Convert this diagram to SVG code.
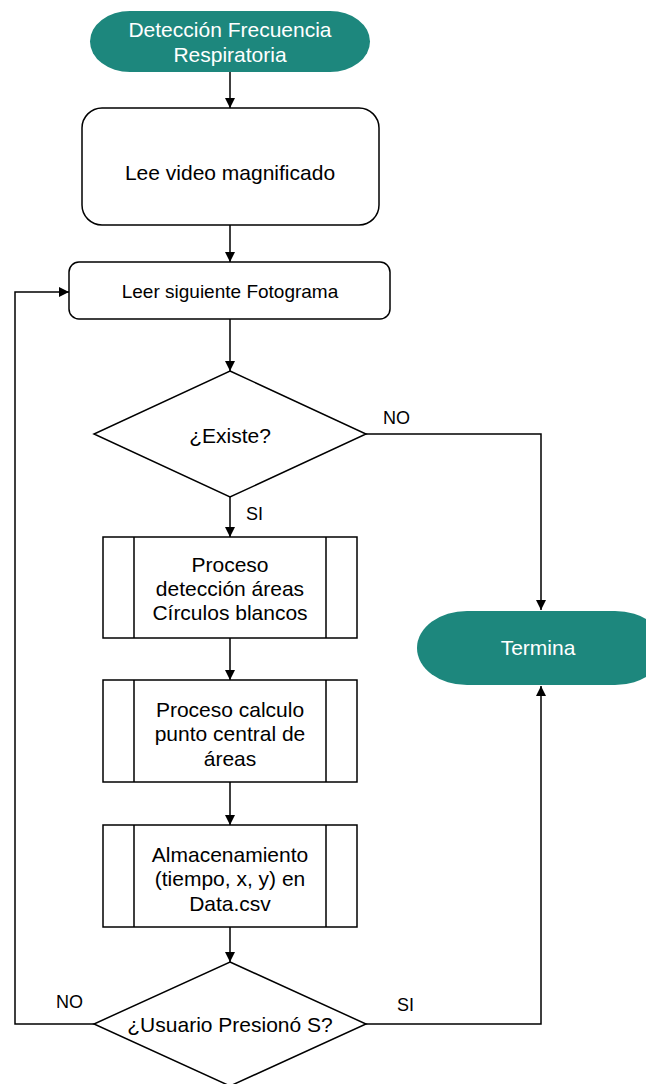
<svg xmlns="http://www.w3.org/2000/svg" width="646" height="1084" viewBox="0 0 646 1084">
<defs>
<marker id="ah" viewBox="0 0 10 10" refX="10" refY="5" markerWidth="10" markerHeight="10" markerUnits="userSpaceOnUse" orient="auto">
<path d="M0,0 L10,5 L0,10 z" fill="#000"/>
</marker>
<style>
.t{font-family:"Liberation Sans",Arial,sans-serif;font-size:21px;fill:#000;text-anchor:middle}
.w{fill:#fff}
.lb{font-family:"Liberation Sans",Arial,sans-serif;font-size:18px;fill:#000}
.term{fill:#1d877d;stroke:none}
.box{fill:#fff;stroke:#000;stroke-width:1.5}
.c{fill:none;stroke:#000;stroke-width:1.5;marker-end:url(#ah)}
.cn{fill:none;stroke:#000;stroke-width:1.5}
</style>
</defs>
<rect width="646" height="1084" fill="#fff"/>
<g id="connectors">
<path class="c" d="M230,72 V108"/>
<path class="c" d="M230,225 V262"/>
<path class="c" d="M230,319 V371"/>
<path class="c" d="M366,434 H541 V610"/>
<path class="c" d="M230,497 V537"/>
<path class="c" d="M230,638 V680"/>
<path class="c" d="M230,782 V825"/>
<path class="c" d="M230,927 V962"/>
<path class="c" d="M94,1024 H15 V292 H69"/>
<path class="c" d="M366,1024 H541 V686"/>
<text class="lb" x="383" y="424">NO</text>
<text class="lb" x="246" y="520">SI</text>
<text class="lb" x="56" y="1008">NO</text>
<text class="lb" x="397" y="1011">SI</text>
</g>
<g id="start">
<rect class="term" x="90" y="11" width="280" height="61" rx="40" ry="30.5"/>
<text class="t w" x="230" y="37">Detección Frecuencia</text>
<text class="t w" x="230" y="62">Respiratoria</text>
</g>
<g id="leevideo">
<rect class="box" x="82" y="108" width="297" height="117" rx="20"/>
<text class="t" x="230" y="180">Lee video magnificado</text>
</g>
<g id="leerfotograma">
<rect class="box" x="69" y="262" width="321" height="57" rx="10"/>
<text class="t" x="230" y="298" style="font-size:19px">Leer siguiente Fotograma</text>
</g>
<g id="existe">
<polygon class="box" points="230,371 366,434 230,497 94,434"/>
<text class="t" x="230" y="443">¿Existe?</text>
</g>
<g id="proceso1">
<rect class="box" x="103" y="537" width="254" height="101"/>
<path class="cn" d="M134,537 V638 M326,537 V638"/>
<text class="t" x="230" y="572">Proceso</text>
<text class="t" x="230" y="596">detección áreas</text>
<text class="t" x="230" y="620">Círculos blancos</text>
</g>
<g id="proceso2">
<rect class="box" x="103" y="680" width="254" height="102"/>
<path class="cn" d="M134,680 V782 M326,680 V782"/>
<text class="t" x="230" y="717">Proceso calculo</text>
<text class="t" x="230" y="741">punto central de</text>
<text class="t" x="230" y="766">áreas</text>
</g>
<g id="proceso3">
<rect class="box" x="103" y="825" width="254" height="102"/>
<path class="cn" d="M134,825 V927 M326,825 V927"/>
<text class="t" x="230" y="862">Almacenamiento</text>
<text class="t" x="230" y="886">(tiempo, x, y) en</text>
<text class="t" x="230" y="911">Data.csv</text>
</g>
<g id="usuario">
<polygon class="box" points="230,962 366,1024 230,1086 94,1024"/>
<text class="t" x="230" y="1032">¿Usuario Presionó S?</text>
</g>
<g id="termina">
<rect class="term" x="417" y="611" width="248" height="74" rx="50" ry="37"/>
<text class="t w" x="538" y="655">Termina</text>
</g>
</svg>
